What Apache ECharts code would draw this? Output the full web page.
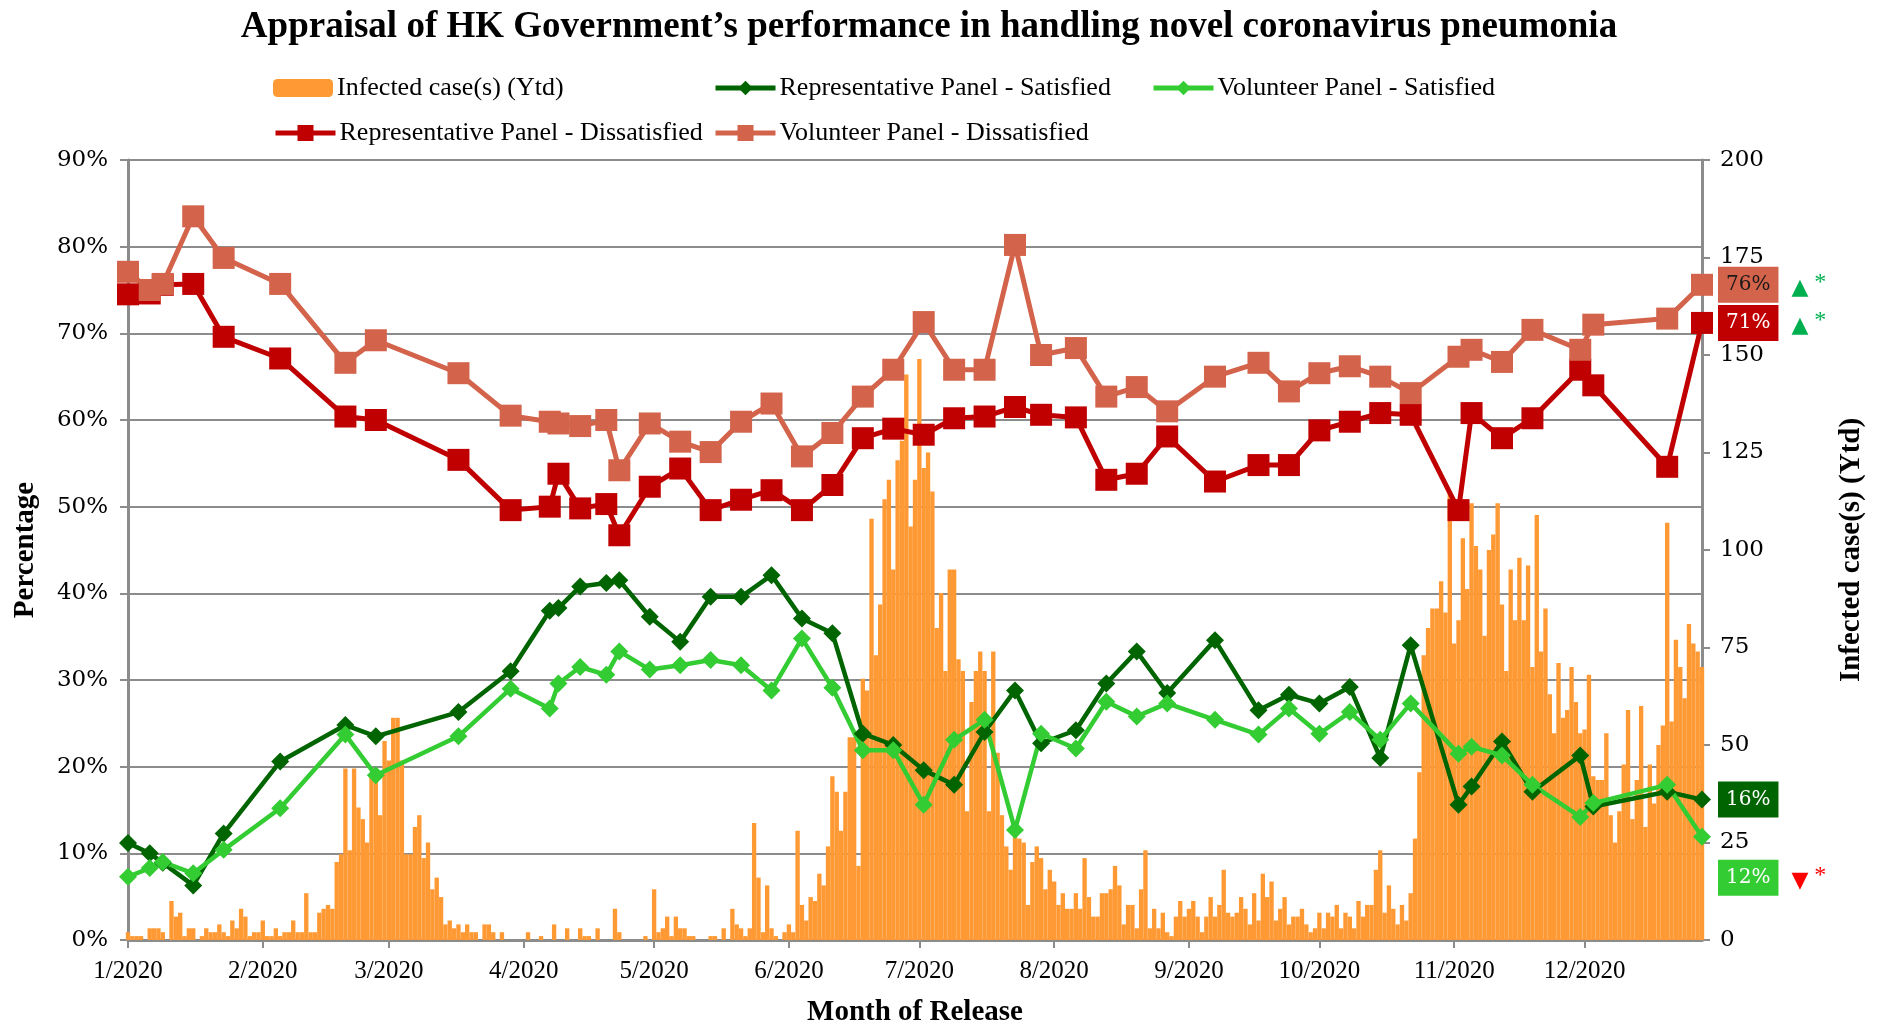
<!DOCTYPE html>
<html>
<head>
<meta charset="utf-8">
<script src="https://cdn.jsdelivr.net/npm/echarts@6/dist/echarts.min.js"></script>
<style>
html,body{margin:0;padding:0;background:#ffffff;}
#chart{width:1879px;height:1027px;}
</style>
</head>
<body>
<div id="chart"></div>
<script>
// ---------------- DATA ----------------
const titleText = 'Appraisal of HK Government\u2019s performance in handling novel coronavirus pneumonia';
const startDate = '2020-01-27';

// daily infected cases (Ytd), one value per day from startDate
const dailyCases = [
  2,1,1,1,0,3,3,3,2,0,
  10,6,7,1,3,3,0,1,3,2,
  2,4,2,1,5,3,8,6,1,2,
  2,5,1,1,3,1,2,2,5,2,
  2,12,2,2,7,8,9,8,20,22,
  44,23,44,34,31,25,42,44,32,51,
  46,57,57,46,22,22,29,32,21,25,
  13,16,11,4,5,3,4,2,4,2,
  2,0,4,4,2,0,2,0,0,0,
  0,0,2,0,0,1,0,0,4,0,
  0,3,0,0,3,1,1,0,3,0,
  0,0,8,2,0,0,0,0,0,1,
  0,13,2,3,6,1,6,3,3,1,
  1,0,0,0,1,1,0,3,0,8,
  4,3,1,3,30,16,2,14,3,1,
  0,2,4,2,28,9,5,11,10,17,
  14,24,42,38,28,38,52,52,19,67,
  64,108,73,86,113,118,95,123,128,145,
  106,118,149,121,125,115,80,89,69,95,
  95,72,69,33,61,69,74,69,33,74,
  48,32,24,18,28,26,25,9,20,24,
  21,13,18,15,9,12,8,8,12,8,
  21,11,6,6,12,12,13,19,14,4,
  9,9,3,13,23,3,8,3,7,2,
  1,6,10,6,8,10,6,2,6,11,
  6,9,18,7,6,7,11,8,4,12,
  5,17,11,15,5,8,11,4,6,6,
  8,4,2,3,7,3,7,6,9,3,
  7,6,3,10,6,9,9,18,23,7,
  14,8,4,9,5,12,26,43,73,80,
  85,85,92,84,115,76,82,103,90,112,
  101,95,78,100,104,112,86,69,95,82,
  98,82,96,70,109,74,85,63,53,71,
  57,59,70,61,53,54,68,42,41,41,
  53,32,25,33,45,59,31,41,60,29,
  45,35,50,55,107,56,77,70,62,81,
  76,74,70
];

// survey release dates
const surveyDates = [
  '2020-01-27','2020-02-01','2020-02-04','2020-02-11','2020-02-18','2020-03-02','2020-03-17','2020-03-24',
  '2020-04-12','2020-04-24','2020-05-03','2020-05-05','2020-05-10','2020-05-16','2020-05-19','2020-05-26',
  '2020-06-02','2020-06-09','2020-06-16','2020-06-23','2020-06-30','2020-07-07','2020-07-14','2020-07-21',
  '2020-07-28','2020-08-04','2020-08-11','2020-08-18','2020-08-24','2020-09-01','2020-09-08','2020-09-15',
  '2020-09-22','2020-10-03','2020-10-13','2020-10-20','2020-10-27','2020-11-03','2020-11-10','2020-11-17',
  '2020-11-28','2020-12-01','2020-12-08','2020-12-15','2020-12-26','2020-12-29','2021-01-15','2021-01-23'
];

const repSatisfied = [
  11.2,10.0,8.9,6.3,12.3,20.6,24.8,23.5,26.3,31.0,38.0,38.3,40.8,41.2,41.5,37.3,
  34.4,39.6,39.6,42.1,37.1,35.4,23.8,22.5,19.6,17.9,24.0,28.8,22.7,24.2,29.6,33.3,
  28.5,34.6,26.5,28.3,27.3,29.2,21.0,34.0,15.6,17.7,22.9,17.1,21.3,15.4,17.1,16.2
];
const volSatisfied = [
  7.3,8.3,9.0,7.7,10.4,15.2,23.7,19.0,23.5,29.0,26.7,29.6,31.5,30.6,33.3,31.2,
  31.7,32.3,31.7,28.8,34.8,29.1,21.9,21.9,15.6,23.1,25.4,12.7,23.8,22.1,27.5,25.8,
  27.3,25.4,23.7,26.7,23.8,26.3,23.1,27.3,21.5,22.3,21.3,17.9,14.2,15.8,17.9,11.9
];
const repDissatisfied = [
  74.5,74.6,75.6,75.7,69.6,67.1,60.4,60.0,55.4,49.6,50.0,53.8,49.8,50.3,46.7,52.3,
  54.4,49.6,50.8,51.9,49.6,52.5,57.9,59.0,58.3,60.2,60.4,61.5,60.6,60.3,53.1,53.8,
  58.1,52.9,54.8,54.8,58.8,59.8,60.8,60.6,49.6,60.8,57.9,60.2,65.8,64.0,54.6,71.2
];
const volDissatisfied = [
  77.1,75.0,75.7,83.5,78.7,75.7,66.6,69.2,65.4,60.5,59.8,59.6,59.3,60.0,54.2,59.6,
  57.5,56.3,59.8,61.9,55.8,58.5,62.7,65.8,71.3,65.8,65.8,80.2,67.5,68.3,62.7,63.8,
  61.0,65.0,66.6,63.3,65.4,66.2,65.0,63.1,67.3,68.1,66.7,70.4,68.1,71.0,71.7,75.6
];

// x-axis tick dates and their labels
const tickDates = ['2020-01-27','2020-02-27','2020-03-27','2020-04-27','2020-05-27','2020-06-27',
                   '2020-07-27','2020-08-27','2020-09-27','2020-10-27','2020-11-27','2020-12-27'];
const tickLabels = ['1/2020','2/2020','3/2020','4/2020','5/2020','6/2020',
                    '7/2020','8/2020','9/2020','10/2020','11/2020','12/2020'];

const seriesNames = ['Infected case(s) (Ytd)','Representative Panel - Satisfied','Volunteer Panel - Satisfied',
                     'Representative Panel - Dissatisfied','Volunteer Panel - Dissatisfied'];
// significance marks shown after the latest figures
const endMarks = ['', '', '\u25BC', '\u25B2', '\u25B2'];

// ---------------- BUILD ----------------
const dayMs = 86400000;
const t0 = Date.parse(startDate);
const categories = dailyCases.map((_, i) => new Date(t0 + i * dayMs).toISOString().slice(0, 10));
const tickSet = new Set(tickDates);

const serif = 'Liberation Serif';
const numFont = 'DejaVu Serif';
const gridGray = '#8c8c8c';

function endLabel(boxColor, textColor, mark, markColor, distance) {
  return {
    show: true,
    position: 'right',
    distance: distance,
    formatter: function (p) {
      const v = Math.round(p.value[1]) + '%';
      return mark ? '{box|' + v + '}{tri|' + mark + '}{ast|*}' : '{box|' + v + '}';
    },
    rich: {
      box: { backgroundColor: boxColor, color: textColor, fontFamily: numFont, fontSize: 20,
             padding: [8, 8, 8, 8], lineHeight: 20, verticalAlign: 'middle' },
      tri: { color: markColor, fontFamily: 'DejaVu Sans', fontSize: 22, padding: [6, 0, 0, 13], verticalAlign: 'middle' },
      ast: { color: markColor, fontFamily: serif, fontSize: 24, padding: [0, 0, 4, 6], verticalAlign: 'middle' }
    }
  };
}

function lineSeries(idx, values, color, symbol, size, width, label, labelShiftY) {
  return {
    name: seriesNames[idx],
    type: 'line',
    yAxisIndex: 0,
    symbol: symbol,
    symbolSize: size,
    showSymbol: true,
    showAllSymbol: true,
    lineStyle: { color: color, width: width },
    itemStyle: { color: color },
    emphasis: { disabled: true },
    labelLayout: { hideOverlap: false, dy: labelShiftY },
    data: surveyDates.map((d, i) => i === values.length - 1
      ? { value: [d, values[i]], label: label }
      : [d, values[i]])
  };
}

const option = {
  animation: false,
  backgroundColor: '#ffffff',
  title: {
    text: titleText,
    left: 924,
    textAlign: 'center',
    top: 4,
    textStyle: { fontFamily: serif, fontWeight: 'bold', fontSize: 37, color: '#000' }
  },
  legend: [
    { data: [seriesNames[0]], left: 273, top: 75, itemHeight: 18 },
    { data: [seriesNames[1]], left: 713, top: 75, itemHeight: 18 },
    { data: [seriesNames[2]], left: 1151, top: 75, itemHeight: 18 },
    { data: [seriesNames[3]], left: 273, top: 120, itemHeight: 20 },
    { data: [seriesNames[4]], left: 713, top: 120, itemHeight: 20 }
  ].map(l => Object.assign(l, {
    padding: 0, itemWidth: 60, itemGap: 0,
    selectedMode: false,
    lineStyle: { width: 5 },
    textStyle: { fontFamily: serif, fontSize: 26, color: '#000', padding: [0, 0, 0, -1] }
  })),
  grid: { left: 128, right: 177, top: 160, bottom: 87, containLabel: false, outerBoundsMode: 'none' },
  xAxis: {
    type: 'category',
    data: categories,
    boundaryGap: false,
    axisLine: { lineStyle: { color: gridGray, width: 3 } },
    axisTick: { interval: (i, v) => tickSet.has(v), length: 8, lineStyle: { color: gridGray, width: 2 } },
    axisLabel: {
      interval: (i, v) => tickSet.has(v),
      formatter: (v) => tickLabels[tickDates.indexOf(v)],
      margin: 19, fontFamily: serif, fontSize: 25, color: '#000'
    },
    splitLine: { show: false },
    name: 'Month of Release',
    nameLocation: 'middle',
    nameGap: 58,
    nameTextStyle: { fontFamily: serif, fontWeight: 'bold', fontSize: 29, color: '#000' }
  },
  yAxis: [
    {
      type: 'value', min: 0, max: 90, interval: 10, position: 'left',
      axisLine: { show: true, lineStyle: { color: gridGray, width: 3 } },
      axisTick: { show: true, length: 8, lineStyle: { color: gridGray, width: 2 } },
      axisLabel: { formatter: '{value}%', margin: 20, fontFamily: numFont, fontSize: 23, color: '#000' },
      splitLine: { show: true, lineStyle: { color: gridGray, width: 2 } },
      name: 'Percentage', nameLocation: 'middle', nameRotate: 90, nameGap: 88,
      nameTextStyle: { fontFamily: serif, fontWeight: 'bold', fontSize: 29, color: '#000' }
    },
    {
      type: 'value', min: 0, max: 200, interval: 25, position: 'right',
      axisLine: { show: true, lineStyle: { color: gridGray, width: 3 } },
      axisTick: { show: true, length: 8, lineStyle: { color: gridGray, width: 2 } },
      axisLabel: { margin: 18, fontFamily: numFont, fontSize: 23, color: '#000' },
      splitLine: { show: false },
      name: 'Infected case(s) (Ytd)', nameLocation: 'middle', nameRotate: 90, nameGap: 135,
      nameTextStyle: { fontFamily: serif, fontWeight: 'bold', fontSize: 29, color: '#000' }
    }
  ],
  series: [
    {
      name: seriesNames[0],
      type: 'bar',
      yAxisIndex: 1,
      data: dailyCases,
      barCategoryGap: '0%',
      itemStyle: { color: '#FF9933' },
      emphasis: { disabled: true }
    },
    lineSeries(1, repSatisfied, '#006400', 'diamond', 18, 4.5,
      endLabel('#006400', '#ffffff', endMarks[1], '#00B050', 7), 0),
    lineSeries(2, volSatisfied, '#33CC33', 'diamond', 18, 4.5,
      endLabel('#33CC33', '#ffffff', endMarks[2], '#FF0000', 7), 41),
    lineSeries(3, repDissatisfied, '#C00000', 'rect', 22, 5,
      endLabel('#C00000', '#ffffff', endMarks[3], '#00B050', 5), 0),
    lineSeries(4, volDissatisfied, '#D3634A', 'rect', 22, 5,
      endLabel('#D3634A', '#1a1a1a', endMarks[4], '#00B050', 5), 0)
  ]
};

const chart = echarts.init(document.getElementById('chart'), null, { renderer: 'canvas' });
chart.setOption(option);
</script>
</body>
</html>
